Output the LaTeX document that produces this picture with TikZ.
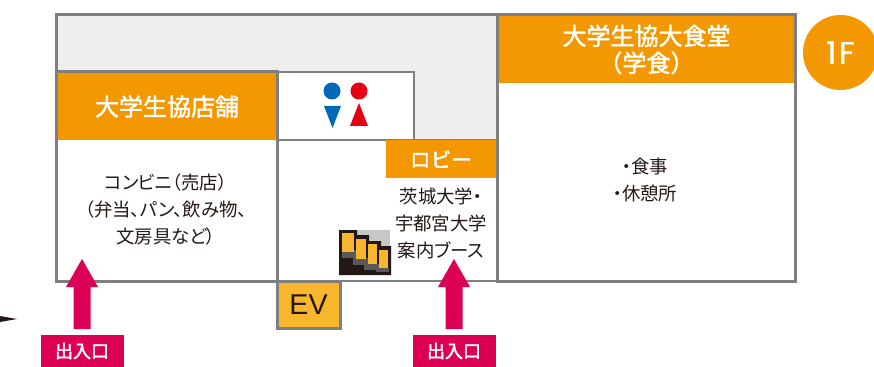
\documentclass[tikz,border=0pt]{standalone}
\usepackage{fontspec}
\setmainfont{Noto Sans CJK JP}
\newfontfamily\tightfont[RawFeature=+palt]{Noto Sans CJK JP}
\newfontfamily\floorfont[LetterSpace=9]{Poppins}
\newfontfamily\evfont{Liberation Sans}
\newcommand\heavytext{\special{pdf:code 2 Tr 0.3 w}}
\usepackage{tikz}
\usetikzlibrary{positioning}
\definecolor{wallgrey}{HTML}{7F7F7F}
\definecolor{floorgrey}{HTML}{EEEEEE}
\definecolor{bannerorange}{HTML}{F39800}
\definecolor{gatered}{HTML}{DC0055}
\definecolor{evyellow}{HTML}{F8B62D}
\definecolor{inktext}{HTML}{231815}
\definecolor{signblue}{HTML}{0068B7}
\definecolor{signred}{HTML}{E60012}
\tikzset{
	room/.style={draw=wallgrey,line width=2.25pt,fill=white},
	banner/.style={fill=bannerorange,text=white,font=\fontsize{18}{20.25}\selectfont\heavytext,inner sep=0pt,align=center},
	bodytext/.style={text=inktext,font=\fontsize{13.8}{20.25}\selectfont\tightfont,inner sep=0pt,align=center},
	gatelabel/.style={fill=gatered,text=white,font=\fontsize{13.5}{15}\selectfont\heavytext,minimum width=62.25pt,minimum height=24pt,inner sep=0pt},
	gatearrow/.style={fill=gatered},
}
\begin{document}
\begin{tikzpicture}[x=0.75pt,y=-0.75pt]
	\useasboundingbox (0,0) rectangle (874,367);
	% floor and rooms
	\fill[floorgrey] (56,15) rectangle (497,140);
	\draw[draw=wallgrey,line width=2.25pt] (56,72) -- (56,15) -- (497,15);
	\draw[room,line width=1.5pt] (277,72) rectangle (414,140);
	\draw[room,line width=1.5pt] (277,140) -- (497,140) -- (497,281) -- (277,281) -- cycle;
	\draw[room] (56,72) rectangle (277,281);
	\draw[room] (497,15) rectangle (795,281);
	% banners
	\node[banner,minimum width=163.5pt,minimum height=50.25pt] (shopbanner) at (167,106.5) {大学生協店舗};
	\node[banner,minimum width=221.25pt,minimum height=50.25pt] (cafebanner) at (646.5,49.5) {大学生協大食堂\\（学食）};
	\node[banner,minimum width=82.5pt,minimum height=28.5pt,font=\fontsize{15.5}{17}\selectfont\heavytext] (lobbybanner) at (441,159) {ロビー};
	% texts
	\node[bodytext] (shoptext) at (166,210) {コンビニ（売店）\\（弁当、パン、飲み物、\\文房具など）};
	\node[bodytext] (cafetext) at (645,180) {・食事\\・休憩所};
	\node[bodytext] (boothtext) at (441,223) {茨城大学・\\宇都宮大学\\案内ブース};
	% toilet signs
	\fill[signblue] (332,91) circle (8.5);
	\fill[signblue] (324,106) -- (341,106) -- (332.5,128) -- cycle;
	\fill[signred] (359,91) circle (8.5);
	\fill[signred] (350,126) -- (368,126) -- (359,103) -- cycle;
	% stairs
	\fill[black!22] (345,230) rectangle (390,262);
	\fill[inktext] (339,230) -- (357,230) -- (357,235) -- (369,235) -- (369,241) -- (381,241) -- (381,246) -- (391,246) -- (391,275) -- (339,275) -- cycle;
	\fill[black!65] (342,250) rectangle (357,258);
	\fill[black!65] (353,258) rectangle (369,265);
	\fill[black!65] (364,264) rectangle (381,270);
	\fill[black!65] (376,268) rectangle (389,272);
	\fill[evyellow] (342,233) rectangle (354,252);
	\fill[evyellow] (356,239) rectangle (366,259);
	\fill[evyellow] (368,244) rectangle (377,264);
	\fill[evyellow] (379,250) rectangle (388,268);
	% elevator
	\node[draw=wallgrey,line width=2.25pt,fill=evyellow,text=inktext,minimum width=47.25pt,minimum height=35.25pt,inner sep=0pt,font=\fontsize{21.5}{24}\selectfont\evfont] (ev) at (308.5,304.5) {EV};
	% floor mark
	\node[circle,fill=bannerorange,text=white,minimum size=56.25pt,inner sep=0pt,font=\fontsize{23}{24}\selectfont\floorfont\heavytext] (floormark) at (840.5,52.5) {1F};
	% entrances
	\foreach \gx/\gname in {82/gateleft,454/gateright}{
		\fill[gatearrow] (\gx,259) -- (\gx+16,287) -- (\gx+8.5,287) -- (\gx+8.5,329) -- (\gx-8.5,329) -- (\gx-8.5,287) -- (\gx-16,287) -- cycle;
		\node[gatelabel] (\gname) at (\gx,351) {出入口};
	}
	\fill[inktext] (0,316) -- (17,319) -- (0,322) -- cycle;
\end{tikzpicture}
\end{document}
